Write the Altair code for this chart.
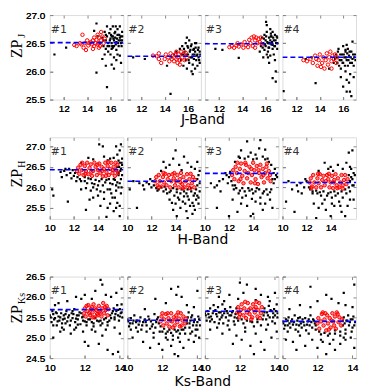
import altair as alt
import pandas as pd

# ---------------- axis / panel definitions ----------------
BANDS = ["J", "H", "Ks"]
BAND_TITLES = {"J": "J-Band", "H": "H-Band", "Ks": "Ks-Band"}
X_DOMAIN = {"J": [10.8, 17.1], "H": [10.0, 16.1], "Ks": [10.0, 14.2]}
Y_DOMAIN = {"J": [25.5, 27.0], "H": [25.23, 27.22], "Ks": [24.5, 26.5]}
X_TICKS = {"J": [12, 14, 16], "H": [10, 12, 14], "Ks": [10, 12, 14]}
Y_TICKS = {"J": [25.5, 26.0, 26.5, 27.0], "H": [25.5, 26.0, 26.5, 27.0],
           "Ks": [24.5, 25.0, 25.5, 26.0, 26.5]}
ZP_LINE = {"J": [26.51, 26.27, 26.49, 26.25],
           "H": [26.43, 26.15, 26.34, 26.12],
           "Ks": [25.69, 25.43, 25.65, 25.40]}
PANEL_LABELS = ["#1", "#2", "#3", "#4"]
ZP_SUB = {"J": "J", "H": "H", "Ks": "Ks"}

# ---------------- J band ----------------
J1_black = [[15.3,26.6],[15.4,26.45],[15.5,26.7],[15.6,26.55],[15.6,26.4],[15.7,26.62],[15.8,26.5],[15.8,26.35],
            [15.9,26.68],[15.9,26.45],[16.0,26.58],[16.0,26.75],[16.1,26.5],[16.1,26.4],[16.2,26.62],[16.2,26.8],
            [16.3,26.55],[16.3,26.45],[16.4,26.7],[16.4,26.6],[16.5,26.52],[16.5,26.38],[16.6,26.65],[16.6,26.75],
            [16.7,26.55],[16.7,26.45],[16.8,26.6],[16.8,26.8],[16.9,26.5],[16.9,26.62],[17.0,26.7],[17.0,26.55],
            [15.5,26.3],[16.0,26.3],[16.3,26.25],[15.7,26.8],[14.9,26.62],[15.1,26.5],[16.2,26.42],[16.6,26.3],
            [11.2,26.3],[12.2,26.42],[14.3,26.5],[14.8,26.85],[14.6,26.72],[14.8,25.98],[15.3,26.22],[15.6,26.1],
            [15.7,25.72],[16.1,26.12],[16.3,26.05],[16.5,26.2],[16.8,26.28],[16.9,26.15],
            [15.4,26.55],[15.6,26.65],[15.75,26.45],[15.95,26.55],[16.05,26.65],[16.15,26.45],[16.25,26.58],
            [16.35,26.68],[16.45,26.48],[16.55,26.58],[16.65,26.5],[16.75,26.65],[16.85,26.55],[16.95,26.45],
            [17.05,26.62],[16.1,26.62],[16.45,26.8]]
J1_red = [[12.9,26.47],[13.1,26.45],[13.4,26.5],[13.5,26.48],[13.7,26.42],[13.8,26.5],[14.0,26.55],[14.1,26.46],
          [14.2,26.5],[14.3,26.52],[14.4,26.48],[14.5,26.55],[14.6,26.6],[14.6,26.45],[14.7,26.5],[14.8,26.56],
          [14.9,26.48],[15.0,26.6],[15.0,26.5],[15.1,26.45],[15.2,26.55],[15.3,26.62],[15.4,26.5],[15.5,26.58],
          [13.6,26.65],[15.0,26.42],[14.9,26.65],[15.2,26.7],[13.9,26.38],[14.5,26.4]]
J2_black = [[14.2,26.1],[14.6,26.25],[14.8,26.3],[15.0,26.35],[14.5,25.6],[15.3,26.4],[15.4,26.2],[15.5,26.45],
            [15.6,26.3],[15.6,26.1],[15.7,26.35],[15.8,26.5],[15.8,26.2],[15.9,26.05],[16.0,26.3],[16.0,26.42],
            [16.1,26.15],[16.1,26.55],[16.2,26.25],[16.2,26.38],[16.3,26.0],[16.3,26.48],[16.4,26.3],[16.4,26.12],
            [16.5,26.4],[16.5,26.22],[16.6,26.05],[16.6,26.35],[16.7,26.5],[16.7,26.2],[16.8,26.3],[16.8,26.1],
            [16.9,26.42],[16.9,26.25],[17.0,26.15],[17.0,26.35],[11.3,26.25],[12.3,26.22],[15.9,26.6],[16.4,25.95],
            [15.45,26.3],[15.65,26.4],[15.85,26.3],[15.95,26.45],[16.05,26.2],[16.15,26.35],[16.25,26.45],
            [16.35,26.25],[16.45,26.38],[16.55,26.3],[16.65,26.42],[16.75,26.28],[16.85,26.38],[16.95,26.2],
            [17.05,26.3],[16.6,26.5]]
J2_red = [[13.0,26.28],[13.3,26.27],[13.5,26.22],[13.5,26.32],[13.7,26.15],[14.1,26.3],[14.3,26.25],[14.5,26.32],
          [14.6,26.22],[14.7,26.28],[14.8,26.18],[14.9,26.3],[15.0,26.22],[15.1,26.25],[15.1,26.15],[15.2,26.3],
          [15.3,26.2],[15.4,26.35],[15.5,26.25],[15.6,26.3],[15.7,26.2],[15.8,26.33],[14.4,26.18],[15.0,26.35],
          [14.0,26.22],[15.3,26.12],[15.9,26.25]]
J3_black = [[15.6,26.45],[15.7,26.6],[15.8,26.5],[15.9,26.38],[15.9,26.65],[16.0,26.55],[16.0,26.45],[16.1,26.7],
            [16.2,26.5],[16.2,26.35],[16.3,26.6],[16.3,26.42],[16.4,26.55],[16.4,26.75],[16.5,26.48],[16.5,26.62],
            [16.6,26.4],[16.6,26.7],[16.7,26.55],[16.8,26.45],[16.8,26.65],[16.9,26.5],[17.0,26.6],[17.0,26.4],
            [15.5,26.35],[16.1,26.3],[16.4,26.28],[16.7,26.3],[16.3,26.15],[15.8,26.25],
            [16.04,26.88],[16.1,26.82],[16.45,26.67],[16.6,26.47],[16.8,26.2],[16.87,26.0],[16.6,25.88],
            [16.87,25.82],[13.7,26.24],[12.3,26.38],[11.7,26.4],
            [15.65,26.5],[15.75,26.42],[15.85,26.58],[15.95,26.48],[16.05,26.62],[16.15,26.52],[16.25,26.42],
            [16.35,26.5],[16.45,26.62],[16.55,26.52],[16.65,26.6],[16.75,26.45],[16.85,26.55],[16.95,26.62],
            [17.05,26.5],[16.2,26.25]]
J3_red = [[12.9,26.43],[13.1,26.45],[13.3,26.42],[13.5,26.46],[13.7,26.44],[13.9,26.48],[14.1,26.42],[14.3,26.47],
          [14.5,26.43],[14.7,26.5],[14.8,26.6],[14.9,26.45],[15.0,26.62],[15.1,26.55],[15.2,26.6],[15.3,26.5],
          [15.4,26.58],[15.5,26.52],[15.6,26.6],[15.7,26.48],[14.2,26.52],[14.6,26.56],[13.6,26.5],[15.1,26.42]]
J4_black = [[15.4,26.3],[15.5,26.15],[15.6,26.4],[15.7,26.2],[15.8,26.05],[15.9,26.3],[16.0,26.15],[16.0,26.45],
            [16.1,26.25],[16.2,26.0],[16.2,26.35],[16.3,26.2],[16.4,26.1],[16.4,26.4],[16.5,26.28],[16.6,26.15],
            [16.6,25.95],[16.7,26.35],[16.8,26.22],[16.9,26.1],[17.0,26.3],[15.8,25.9],[16.3,25.85],[16.9,25.9],
            [16.5,25.8],[15.3,26.22],[12.8,26.22],[13.3,26.25],[14.8,26.05],
            [16.0,25.73],[16.3,25.64],[16.58,25.64],[16.7,25.56],[13.64,25.79],[10.9,25.65],[16.3,26.47],
            [16.8,26.53],[16.2,26.38],
            [15.45,26.25],[15.55,26.35],[15.65,26.1],[15.75,26.3],[15.85,26.2],[15.95,26.15],[16.05,26.3],
            [16.15,26.1],[16.25,26.25],[16.35,26.32],[16.45,26.2],[16.55,26.35],[16.65,26.25],[16.75,26.15],
            [16.85,26.3],[16.95,26.25],[17.05,26.2],[15.2,26.15]]
J4_red = [[12.6,26.2],[12.9,26.18],[13.2,26.22],[13.4,26.15],[13.6,26.28],[13.8,26.1],[13.9,26.2],[14.0,26.3],
          [14.2,26.15],[14.3,26.25],[14.4,26.05],[14.5,26.2],[14.6,26.32],[14.7,26.12],[14.8,26.25],[14.9,26.35],
          [15.0,26.18],[15.1,26.28],[15.2,26.22],[15.3,26.3],[15.4,26.15],[15.5,26.25],[14.1,26.08],[13.7,26.22],
          [15.0,26.05]]

# ---------------- H band ----------------
H1_black = [[10.2,25.95],[10.3,25.8],[10.9,26.38],[11.2,26.4],[11.4,26.3],[11.6,26.45],[11.7,26.35],[11.9,26.42],
            [12.0,26.28],[11.5,25.65],[12.1,26.35],[11.8,26.22],
            [13.2,26.72],[13.6,26.68],[14.1,27.05],[14.4,27.0],[14.5,26.75],[15.0,26.7],[15.3,26.72],[15.5,27.0],
            [15.6,26.8],[15.8,26.9],[15.9,27.05],[15.7,26.65],[14.8,26.66],[12.6,26.6],
            [15.6,26.5],[15.7,26.35],[15.8,26.6],[15.9,26.45],[16.0,26.3],[15.9,26.2],[16.0,26.55],[15.8,26.1],
            [15.7,26.0],[16.0,26.7],
            [12.5,26.2],[12.9,26.15],[13.2,26.22],[13.5,26.1],[13.8,26.18],[14.0,26.05],[14.3,26.2],[14.6,26.12],
            [14.9,26.2],[15.2,26.08],[15.4,26.18],[13.0,25.98],[13.4,25.92],[13.9,25.95],[14.5,25.88],[14.8,25.95],
            [15.1,25.85],[15.5,25.92],[13.6,25.75],[14.2,25.55],[14.5,25.72],[15.0,25.6],[15.3,25.42],[15.6,25.62],
            [15.8,25.3],[13.0,25.45],[12.6,25.95],[15.2,25.75],[14.7,25.28],[15.5,25.5],
            [12.3,26.25],[12.6,26.15],[12.9,26.25],[13.1,26.1],[13.4,26.2],[13.7,26.08],[14.1,26.15],[14.4,26.05],
            [14.7,26.18],[15.0,26.1],[15.3,26.2],[15.5,26.05],[15.7,26.3],[15.85,26.4],[15.95,26.6],[15.75,26.5],
            [12.2,26.15],[13.6,26.0],[14.2,25.9],[15.0,25.95],[15.4,25.75],[15.9,25.85],[14.0,25.8],[13.3,25.7],
            [15.8,25.55],[14.8,25.5],[15.6,26.12],[15.95,26.0],[11.0,26.25],[11.3,26.45]]
H1_red = [[12.25,26.4],[12.35,26.48],[12.45,26.33],[12.55,26.55],[12.65,26.42],[12.8,26.3],[12.9,26.52],[13.0,26.4],
          [13.1,26.6],[13.2,26.32],[13.3,26.47],[13.4,26.56],[13.5,26.28],[13.6,26.4],[13.7,26.6],[13.8,26.5],
          [13.9,26.3],[14.0,26.42],[14.1,26.58],[14.2,26.35],[14.3,26.5],[14.4,26.27],[14.5,26.45],[14.6,26.6],
          [14.7,26.37],[14.8,26.52],[14.9,26.3],[15.0,26.45],[15.1,26.6],[15.2,26.35],[15.3,26.5],[15.4,26.28],
          [15.5,26.42],[15.6,26.55],[15.65,26.35],[12.7,26.6],[13.45,26.38],[13.95,26.55],[14.35,26.4],
          [14.85,26.62],[15.25,26.42],[12.95,26.33],[14.65,26.28],[15.45,26.6]]
H2_black = [[10.2,25.95],[10.8,25.5],[11.0,26.1],[11.3,26.05],[11.6,26.12],[11.8,26.08],[12.0,26.0],[11.9,26.2],
            [10.5,26.15],
            [12.8,26.4],[13.2,26.48],[13.5,26.55],[14.0,26.9],[13.8,26.7],[14.3,26.55],[14.7,26.75],[15.0,26.6],
            [15.3,26.5],[15.6,26.45],[15.8,26.62],[14.5,26.42],[13.0,26.62],
            [12.6,25.95],[13.0,25.9],[13.3,25.85],[13.6,25.92],[13.9,25.8],[14.1,25.88],[14.3,25.7],[14.5,25.95],
            [14.7,25.78],[14.9,25.85],[15.1,25.7],[15.3,25.9],[15.5,25.8],[15.7,25.95],[15.9,25.75],[14.0,25.6],
            [14.4,25.5],[14.8,25.6],[15.2,25.55],[15.6,25.45],[13.8,25.45],[14.1,25.3],[15.4,25.35],[15.0,25.25],
            [13.5,25.7],[15.8,26.05],[16.0,26.1],[15.9,25.6],[12.4,25.98],[13.1,26.02],
            [12.2,26.05],[12.5,25.92],[12.8,26.0],[13.2,25.95],[13.5,25.88],[13.8,25.98],[14.1,25.95],[14.4,25.85],
            [14.7,25.9],[15.0,25.95],[15.3,25.98],[15.6,25.85],[15.8,25.8],[16.0,25.9],[14.2,25.75],[14.6,25.65],
            [15.0,25.78],[15.4,25.62],[15.7,25.7],[13.7,25.62],[14.9,25.42],[15.5,25.55],[15.9,26.3],[15.8,26.2],
            [16.0,26.4],[11.4,25.95],[12.1,26.15]]
H2_red = [[12.3,26.15],[12.4,26.25],[12.5,26.05],[12.6,26.3],[12.7,26.15],[12.85,26.02],[12.95,26.25],[13.05,26.12],
          [13.15,26.33],[13.25,26.05],[13.35,26.2],[13.45,26.3],[13.55,26.0],[13.65,26.15],[13.75,26.32],
          [13.85,26.22],[13.95,26.05],[14.05,26.15],[14.15,26.3],[14.25,26.0],[14.35,26.2],[14.45,26.35],
          [14.55,26.08],[14.65,26.25],[14.75,26.0],[14.85,26.15],[14.95,26.32],[15.05,26.05],[15.15,26.2],
          [15.25,26.33],[15.35,26.1],[15.45,26.25],[15.55,26.0],[15.6,26.18],[13.0,26.35],[13.9,26.35],
          [14.6,25.98],[15.2,25.98],[12.6,26.0],[14.4,26.12]]
H3_black = [[10.5,26.1],[10.8,26.0],[11.0,26.05],[11.3,25.9],[11.5,26.2],[11.8,26.3],[12.0,26.25],[11.0,25.5],
            [11.7,26.35],[12.1,26.38],
            [13.5,27.12],[14.6,27.15],[13.0,26.9],[13.8,26.85],[14.2,26.8],[14.8,26.75],[15.2,26.7],[12.8,26.75],
            [15.5,26.55],[13.3,26.7],[14.0,26.68],[14.5,26.95],[15.0,26.92],[12.5,26.62],[15.8,26.45],[15.9,26.3],
            [12.4,25.95],[12.8,25.85],[13.1,25.98],[13.4,25.8],[13.7,25.92],[14.0,25.85],[14.3,25.98],[14.6,25.75],
            [14.9,25.9],[15.2,25.82],[15.5,25.95],[15.7,26.1],[13.0,25.6],[13.5,25.55],[14.2,25.65],[14.8,25.45],
            [15.4,25.7],[12.7,25.4],[12.0,25.3],[14.0,25.35],[15.0,25.6],[13.8,25.3],[12.5,26.05],[15.6,25.5],
            [12.2,26.15],[12.3,26.05],[12.6,25.98],[12.9,25.92],[13.3,25.9],[13.6,25.98],[13.9,25.95],[14.2,25.9],
            [14.5,25.95],[14.8,25.85],[15.1,25.95],[15.4,25.88],[15.6,26.2],[15.7,26.35],[15.8,26.2],[16.0,26.25],
            [12.9,26.72],[13.6,26.75],[14.3,26.7],[15.0,26.68],[15.3,26.62],[13.1,25.75],[13.9,25.72],[14.6,25.6],
            [12.3,25.7],[11.9,26.1],[11.2,26.15]]
H3_red = [[12.25,26.3],[12.35,26.42],[12.45,26.2],[12.55,26.5],[12.65,26.35],[12.8,26.15],[12.9,26.45],[13.0,26.58],
          [13.1,26.28],[13.2,26.1],[13.3,26.4],[13.4,26.55],[13.5,26.22],[13.6,26.35],[13.7,26.5],[13.8,26.12],
          [13.9,26.3],[14.0,26.6],[14.1,26.42],[14.2,26.2],[14.3,26.52],[14.4,26.08],[14.5,26.35],[14.6,26.55],
          [14.7,26.25],[14.8,26.45],[14.9,26.12],[15.0,26.35],[15.1,26.5],[15.2,26.22],[15.3,26.4],[15.4,26.3],
          [15.45,26.15],[12.7,26.6],[13.35,26.6],[13.85,26.45],[14.45,26.42],[15.15,26.58],[12.95,26.2],
          [14.15,26.1],[14.85,26.3]]
H4_black = [[10.3,25.65],[10.8,25.95],[11.2,26.05],[11.5,26.1],[11.8,26.0],[12.0,26.15],[11.6,25.85],[10.5,26.15],
            [11.0,25.4],
            [13.5,26.6],[14.0,26.5],[14.6,26.55],[15.0,26.45],[15.3,26.6],[15.6,26.5],[15.8,26.9],[15.5,26.85],
            [14.2,26.4],[13.0,26.4],[15.9,26.35],[15.7,26.25],
            [12.5,25.9],[12.9,25.85],[13.2,25.8],[13.5,25.7],[13.8,25.85],[14.1,25.75],[14.4,25.8],[14.7,25.65],
            [15.0,25.75],[15.3,25.85],[15.6,25.9],[15.8,26.05],[13.0,25.5],[13.6,25.45],[14.3,25.55],[14.9,25.4],
            [15.4,25.55],[12.8,25.25],[14.0,25.3],[15.2,25.3],[15.9,25.7],[12.3,25.95],
            [12.2,26.0],[12.5,25.85],[12.8,25.92],[13.1,25.88],[13.4,25.9],[13.7,25.8],[14.0,25.88],[14.3,25.9],
            [14.6,25.85],[14.9,25.9],[15.2,25.95],[15.5,26.0],[15.6,26.15],[15.8,26.2],[15.9,26.05],[16.0,26.3],
            [15.5,26.3],[13.3,25.6],[14.1,25.6],[14.8,25.55],[15.6,25.7],[12.6,25.6],[11.3,25.9],[11.9,26.2],
            [15.7,26.45],[13.8,26.45]]
H4_red = [[12.25,26.12],[12.35,26.22],[12.45,26.02],[12.55,26.3],[12.65,26.12],[12.8,26.0],[12.9,26.22],[13.0,26.1],
          [13.1,26.32],[13.2,26.0],[13.3,26.18],[13.4,26.28],[13.5,26.05],[13.6,26.15],[13.7,26.3],[13.8,26.2],
          [13.9,26.0],[14.0,26.12],[14.1,26.28],[14.2,25.98],[14.3,26.18],[14.4,26.32],[14.5,26.05],[14.6,26.22],
          [14.7,26.0],[14.8,26.12],[14.9,26.3],[15.0,26.05],[15.1,26.18],[15.2,26.3],[15.3,26.08],[15.4,26.2],
          [12.95,26.33],[13.85,26.33],[14.55,25.98],[12.4,25.98],[14.25,26.12],[15.0,25.97]]

# ---------------- Ks band ----------------
K1_black = [[10.05,25.5],[10.1,25.38],[10.2,25.58],[10.25,25.45],[10.35,25.62],[10.4,25.3],[10.5,25.52],[10.55,25.42],
            [10.65,25.6],[10.7,25.35],[10.8,25.55],[10.85,25.47],[10.95,25.65],[11.0,25.4],[11.1,25.55],[11.15,25.3],
            [11.25,25.6],[11.3,25.48],[11.4,25.7],[11.45,25.38],[11.55,25.55],[11.6,25.45],[11.7,25.62],[11.75,25.33],
            [11.85,25.5],[11.9,25.42],[12.1,25.38],[12.3,25.45],[12.5,25.35],[12.7,25.42],[12.9,25.3],[13.1,25.45],
            [13.3,25.38],[13.5,25.48],[13.55,25.6],[13.65,25.72],[13.7,25.5],[13.8,25.65],[13.85,25.8],[13.9,25.55],
            [14.0,25.7],[14.05,25.6],[14.1,25.82],[14.15,25.5],[13.95,25.42],
            [10.5,25.85],[11.0,25.9],[11.5,26.0],[11.8,25.95],[12.0,26.05],[12.4,25.95],[12.6,26.15],[13.0,26.3],
            [13.2,26.05],[13.5,26.0],[13.8,26.1],[14.1,26.2],[12.9,26.42],[10.3,25.8],
            [10.2,25.0],[10.8,25.2],[11.2,25.1],[11.5,25.25],[11.9,25.15],[12.0,24.9],[12.2,24.8],[12.4,25.2],
            [12.6,25.15],[12.8,24.85],[13.0,25.05],[13.2,25.2],[13.3,24.7],[13.6,24.6],[13.9,24.65],[14.0,25.1],
            [13.7,25.25],[10.6,25.15],
            [10.0,25.55],[10.15,25.65],[10.3,25.48],[10.45,25.4],[10.6,25.5],[10.75,25.45],[10.9,25.58],[11.05,25.5],
            [11.2,25.42],[11.35,25.58],[11.5,25.47],[11.65,25.55],[11.8,25.6],[11.9,25.52],[12.0,25.4],[12.2,25.45],
            [12.4,25.38],[12.6,25.48],[12.8,25.4],[13.0,25.35],[13.2,25.48],[13.4,25.42],[13.45,25.55],[13.6,25.65],
            [13.75,25.58],[13.9,25.68],[14.1,25.62],[14.0,25.52],[13.7,25.45],[10.4,25.6],[10.9,25.35],[11.3,25.65],
            [11.6,25.32],[12.1,25.3],[12.5,25.28],[12.9,25.42],[13.3,25.3],[10.2,25.3],[10.7,25.25],[11.4,25.2]]
K1_red = [[11.95,25.6],[12.0,25.72],[12.05,25.52],[12.15,25.65],[12.2,25.8],[12.3,25.55],[12.35,25.7],[12.45,25.62],
          [12.5,25.82],[12.55,25.5],[12.65,25.68],[12.7,25.58],[12.8,25.78],[12.85,25.65],[12.95,25.52],[13.0,25.72],
          [13.05,25.85],[13.1,25.6],[13.2,25.68],[13.25,25.78],[13.3,25.55],[13.35,25.7],[12.4,25.75],[12.75,25.55],
          [12.25,25.6],[12.6,25.72],[12.9,25.62],[13.15,25.75],[12.1,25.78],[12.45,25.5]]
K2_black = [[10.05,25.4],[10.1,25.28],[10.2,25.48],[10.3,25.35],[10.4,25.55],[10.5,25.25],[10.55,25.42],[10.65,25.32],
            [10.75,25.5],[10.8,25.2],[10.9,25.38],[11.0,25.45],[11.1,25.3],[11.2,25.52],[11.3,25.22],[11.35,25.4],
            [11.45,25.33],[11.55,25.58],[11.6,25.25],[11.7,25.45],[11.8,25.35],[11.85,25.15],[12.0,25.15],[12.2,25.1],
            [12.4,25.2],[12.6,25.05],[12.8,25.15],[13.0,25.1],[13.2,25.2],[13.4,25.35],[13.45,25.5],[13.55,25.25],
            [13.6,25.42],[13.7,25.55],[13.75,25.3],[13.85,25.45],[13.9,25.2],[14.0,25.38],[14.05,25.52],[14.15,25.3],
            [13.5,25.62],
            [11.6,25.95],[12.2,25.85],[12.5,26.2],[12.8,26.05],[13.1,26.0],[13.4,25.8],[13.8,25.75],[14.0,26.15],
            [11.0,25.7],[12.9,26.25],
            [10.3,25.0],[10.9,24.9],[11.5,25.0],[11.8,24.85],[12.0,24.7],[12.3,24.95],[12.5,24.8],[12.7,24.6],
            [13.0,24.9],[13.2,24.75],[13.5,24.95],[13.8,24.9],[14.1,25.0],[12.9,24.55],[11.3,24.75],[13.6,25.1],
            [10.0,25.45],[10.15,25.35],[10.35,25.42],[10.5,25.38],[10.7,25.4],[10.85,25.3],[11.05,25.38],[11.25,25.45],
            [11.4,25.28],[11.65,25.38],[11.75,25.5],[11.9,25.28],[12.1,25.22],[12.3,25.15],[12.5,25.12],[12.7,25.2],
            [12.9,25.18],[13.1,25.2],[13.3,25.25],[13.4,25.42],[13.55,25.35],[13.65,25.5],[13.8,25.38],[13.95,25.3],
            [14.1,25.45],[13.7,25.15],[13.9,25.05],[12.2,25.0],[12.6,24.95],[12.9,25.0],[13.3,25.1],[10.6,25.15],
            [11.1,25.15],[11.5,25.12],[10.2,25.2],[14.0,25.2]]
K2_red = [[11.9,25.4],[11.95,25.52],[12.05,25.3],[12.1,25.45],[12.2,25.58],[12.25,25.35],[12.35,25.48],[12.4,25.27],
          [12.5,25.6],[12.55,25.4],[12.65,25.5],[12.7,25.3],[12.8,25.55],[12.85,25.38],[12.95,25.47],[13.0,25.28],
          [13.05,25.6],[13.15,25.42],[13.2,25.52],[13.3,25.35],[13.35,25.47],[12.3,25.6],[12.6,25.25],[12.9,25.62],
          [13.1,25.3],[12.0,25.6],[12.45,25.42],[12.75,25.45]]
K3_black = [[10.05,25.55],[10.1,25.42],[10.15,25.65],[10.25,25.5],[10.3,25.72],[10.4,25.45],[10.45,25.6],[10.55,25.38],
            [10.6,25.68],[10.7,25.52],[10.75,25.75],[10.85,25.45],[10.9,25.62],[11.0,25.55],[11.05,25.35],[11.15,25.7],
            [11.2,25.5],[11.3,25.6],[11.35,25.42],[11.45,25.75],[11.5,25.55],[11.6,25.65],[11.65,25.4],[11.75,25.58],
            [11.8,25.72],[11.85,25.48],[13.35,25.55],[13.4,25.72],[13.5,25.45],[13.55,25.62],[13.65,25.78],[13.7,25.5],
            [13.8,25.65],[13.85,25.4],[13.95,25.7],[14.0,25.55],[14.1,25.82],[14.15,25.6],[12.2,25.35],[12.6,25.4],
            [13.0,25.38],[12.9,25.92],
            [10.8,26.0],[11.4,26.05],[11.9,25.95],[12.2,26.1],[12.4,26.3],[12.9,26.2],[13.2,26.05],[13.6,26.0],
            [14.0,26.1],[12.0,26.35],[11.1,25.9],
            [10.3,25.2],[10.7,25.25],[11.0,25.1],[11.4,25.2],[11.8,25.05],[12.1,24.95],[12.3,25.15],[12.6,24.8],
            [12.9,25.1],[13.2,24.9],[13.5,25.2],[13.8,25.0],[14.1,25.15],[12.8,24.6],[11.6,24.85],[13.4,24.7],
            [10.0,25.6],[10.2,25.58],[10.35,25.52],[10.5,25.65],[10.65,25.58],[10.8,25.62],[10.95,25.5],[11.1,25.6],
            [11.25,25.65],[11.4,25.55],[11.55,25.62],[11.7,25.5],[11.9,25.62],[11.9,25.42],[12.1,25.45],[12.4,25.42],
            [12.7,25.38],[13.0,25.45],[13.3,25.45],[13.4,25.62],[13.6,25.55],[13.75,25.68],[13.9,25.6],[14.05,25.65],
            [14.15,25.5],[13.9,25.5],[10.3,25.4],[10.8,25.35],[11.3,25.3],[11.7,25.32],[12.3,25.25],[12.8,25.28],
            [13.2,25.3],[13.6,25.32],[14.0,25.35],[10.5,25.8],[11.0,25.82],[13.7,25.9]]
K3_red = [[11.85,25.62],[11.9,25.75],[11.95,25.5],[12.05,25.68],[12.1,25.82],[12.2,25.55],[12.25,25.72],[12.35,25.48],
          [12.4,25.62],[12.45,25.85],[12.55,25.58],[12.6,25.72],[12.7,25.5],[12.75,25.82],[12.85,25.62],[12.9,25.75],
          [13.0,25.52],[13.05,25.68],[13.1,25.85],[13.2,25.6],[13.25,25.75],[12.3,25.88],[12.65,25.45],[12.95,25.88],
          [13.15,25.48],[12.0,25.58],[12.5,25.68],[12.8,25.7]]
K4_black = [[10.05,25.35],[10.1,25.22],[10.2,25.45],[10.3,25.3],[10.35,25.5],[10.45,25.25],[10.5,25.4],[10.6,25.32],
            [10.7,25.55],[10.75,25.2],[10.85,25.42],[10.95,25.3],[11.0,25.5],[11.1,25.25],[11.2,25.38],[11.3,25.48],
            [11.35,25.18],[11.45,25.4],[11.55,25.3],[11.6,25.55],[11.7,25.25],[11.75,25.45],[11.85,25.35],
            [13.45,25.3],[13.5,25.5],[13.6,25.2],[13.65,25.42],[13.75,25.55],[13.8,25.3],[13.9,25.45],[14.0,25.25],
            [14.05,25.52],[14.15,25.38],[12.2,25.08],[12.6,25.05],[13.0,25.1],[13.3,25.05],
            [10.4,25.7],[11.0,25.8],[11.6,25.75],[12.0,25.9],[12.5,26.05],[12.8,25.95],[13.2,25.85],[13.6,25.8],
            [14.0,25.75],[11.6,26.25],[13.5,26.1],[14.1,26.3],
            [10.2,24.95],[10.6,24.9],[11.0,25.05],[11.3,24.8],[11.7,24.95],[12.0,24.75],[12.3,24.9],[12.7,24.85],
            [13.0,24.7],[13.3,24.85],[13.6,24.95],[13.9,25.0],[10.8,24.7],[12.5,24.6],[14.1,24.75],
            [10.0,25.4],[10.15,25.3],[10.3,25.42],[10.4,25.35],[10.55,25.45],[10.65,25.38],[10.8,25.32],[10.9,25.48],
            [11.05,25.35],[11.15,25.45],[11.25,25.3],[11.4,25.32],[11.5,25.45],[11.65,25.38],[11.8,25.42],[11.9,25.3],
            [11.9,25.2],[12.1,25.15],[12.4,25.12],[12.7,25.1],[13.0,25.18],[13.3,25.15],[13.45,25.42],[13.55,25.35],
            [13.7,25.42],[13.85,25.38],[14.0,25.45],[14.1,25.3],[13.6,25.1],[13.95,25.15],[10.3,25.15],[10.9,25.15],
            [11.5,25.1],[12.2,24.95],[12.9,24.95],[13.5,25.0]]
K4_red = [[12.0,25.35],[12.05,25.48],[12.1,25.22],[12.2,25.4],[12.25,25.58],[12.35,25.3],[12.4,25.45],[12.5,25.18],
          [12.55,25.55],[12.6,25.35],[12.7,25.48],[12.75,25.25],[12.85,25.6],[12.9,25.4],[13.0,25.52],[13.05,25.22],
          [13.1,25.62],[13.2,25.38],[13.25,25.5],[13.35,25.3],[13.4,25.45],[12.3,25.62],[12.65,25.2],[12.95,25.3],
          [13.15,25.58],[12.45,25.6],[12.8,25.42]]

BLACK = {"J": [J1_black, J2_black, J3_black, J4_black],
         "H": [H1_black, H2_black, H3_black, H4_black],
         "Ks": [K1_black, K2_black, K3_black, K4_black]}
RED = {"J": [J1_red, J2_red, J3_red, J4_red],
       "H": [H1_red, H2_red, H3_red, H4_red],
       "Ks": [K1_red, K2_red, K3_red, K4_red]}

# ---------------- layout / style ----------------
W = 74
PH = {"J": 85, "H": 82, "Ks": 82}
TITLE_OFF = {"J": 25, "H": 25, "Ks": 28}
ZP_Y = {"J": (34, 21), "H": (41, 27), "Ks": (38, 22)}
RED_FILL = {"J": 0.0, "H": 0.45, "Ks": 0.45}


def panel(band, i):
    xs = alt.Scale(domain=X_DOMAIN[band], nice=False, zero=False)
    ys = alt.Scale(domain=Y_DOMAIN[band], nice=False, zero=False)
    x_enc = alt.X("x:Q", scale=xs, axis=alt.Axis(
        values=X_TICKS[band], format="d", title=None, orient="bottom", offset=-3,
        tickSize=3, labelPadding=4, domain=False, grid=False, labelFlush=False,
        labelOverlap=False, labelBound=False))
    y_enc = alt.Y("y:Q", scale=ys, axis=alt.Axis(
        values=Y_TICKS[band], format=".1f", title=None, orient="left", offset=-3,
        tickSize=3, labelPadding=5, labels=(i == 0), domain=False, grid=False,
        labelFlush=False, labelOverlap=False))
    x_top = alt.X("x:Q", scale=xs, axis=alt.Axis(
        values=X_TICKS[band], title=None, orient="top", offset=-3, tickSize=3,
        labels=False, domain=False, grid=False))
    y_right = alt.Y("y:Q", scale=ys, axis=alt.Axis(
        values=Y_TICKS[band], title=None, orient="right", offset=-3, tickSize=3,
        labels=False, domain=False, grid=False))

    black = alt.Chart(pd.DataFrame(BLACK[band][i], columns=["x", "y"])).mark_point(
        shape="square", filled=True, size=5, color="black", opacity=1, clip=True
    ).encode(x=x_enc, y=y_enc)
    red = alt.Chart(pd.DataFrame(RED[band][i], columns=["x", "y"])).mark_point(
        shape="circle", filled=False, stroke="#ff0000", fill="#ff0000", fillOpacity=RED_FILL[band],
        size=12, strokeWidth=1, strokeOpacity=1, clip=True
    ).encode(x=x_enc, y=y_enc)
    line_df = pd.DataFrame({"x": [X_DOMAIN[band][0]], "x2": [X_DOMAIN[band][1]], "y": [ZP_LINE[band][i]]})
    rule = alt.Chart(line_df).mark_rule(
        color="#0000ff", strokeDash=[5, 3], strokeWidth=1.6, clip=True
    ).encode(x=x_top, x2="x2:Q", y=y_right)
    lab = alt.Chart(pd.DataFrame({"t": [PANEL_LABELS[i]]})).mark_text(
        align="left", baseline="alphabetic", fontSize=11, font="DejaVu Sans", color="#333333"
    ).encode(x=alt.value(1), y=alt.value(18), text="t:N")
    layers = [black, red, rule, lab]
    if i == 0:
        zy, sy = ZP_Y[band]
        zp = alt.Chart(pd.DataFrame({"t": ["ZP"]})).mark_text(
            angle=270, align="center", baseline="middle", font="Liberation Serif",
            fontSize=16, color="black"
        ).encode(x=alt.value(-33), y=alt.value(zy), text="t:N")
        sub = alt.Chart(pd.DataFrame({"t": [ZP_SUB[band]]})).mark_text(
            angle=270, align="center", baseline="middle", font="Liberation Serif",
            fontSize=10, color="black"
        ).encode(x=alt.value(-28), y=alt.value(sy), text="t:N")
        layers += [zp, sub]
    if i == 1:
        ttl = alt.Chart(pd.DataFrame({"t": [BAND_TITLES[band]]})).mark_text(
            align="center", baseline="alphabetic", fontSize=14, font="DejaVu Sans", color="black"
        ).encode(x=alt.value(W + 2), y=alt.value(PH[band] + TITLE_OFF[band]), text="t:N")
        layers.append(ttl)
    return alt.layer(*layers).properties(width=W, height=PH[band]).resolve_axis(
        x="independent", y="independent")


rows = [alt.hconcat(*[panel(band, i) for i in range(4)], spacing=4, bounds="flush") for band in BANDS]

top_two = alt.vconcat(rows[0], rows[1], spacing=8)
chart = alt.vconcat(top_two, rows[2], spacing=23).properties(
    padding={"left": 0, "top": 0, "right": 0, "bottom": 0}
).configure_view(stroke="black", strokeWidth=1).configure_axis(
    labelFont="DejaVu Sans", labelFontSize=9, labelColor="black", tickColor="black"
).configure(background="white")

chart.save("out.html", embed_options={"renderer": "svg", "actions": False})
